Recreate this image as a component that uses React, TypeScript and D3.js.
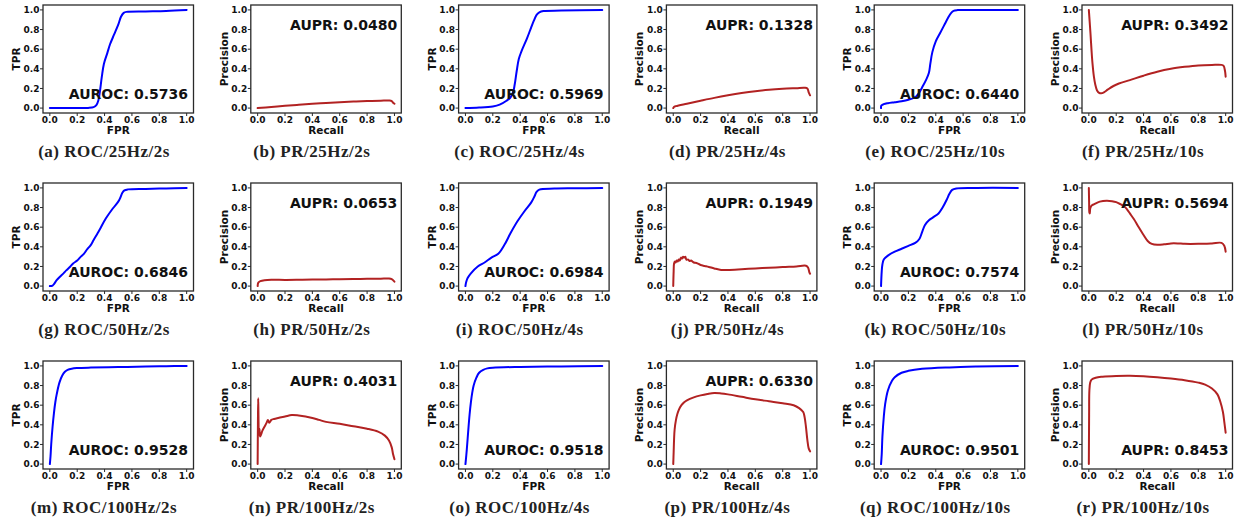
import React from 'react';
import * as d3 from 'd3';

type Pt = [number, number];

// ---------- data ----------
const roc25_2s: Pt[] = [[0,0],[0.1,0],[0.2,0],[0.28,0.002],[0.32,0.01],[0.34,0.03],[0.355,0.08],[0.365,0.16],[0.38,0.32],[0.395,0.45],[0.42,0.56],[0.44,0.65],[0.47,0.75],[0.5,0.85],[0.52,0.93],[0.54,0.97],[0.56,0.98],[0.7,0.985],[0.85,0.99],[1,1]];
const pr25_2s: Pt[] = [[0,0],[0.1,0.012],[0.2,0.024],[0.3,0.034],[0.4,0.044],[0.5,0.052],[0.6,0.06],[0.7,0.066],[0.8,0.071],[0.9,0.075],[0.96,0.077],[0.98,0.072],[0.99,0.055],[1,0.045]];
const roc25_4s: Pt[] = [[0,0],[0.1,0.005],[0.2,0.017],[0.25,0.035],[0.3,0.075],[0.33,0.11],[0.35,0.17],[0.36,0.24],[0.375,0.38],[0.39,0.5],[0.41,0.58],[0.45,0.71],[0.48,0.82],[0.5,0.89],[0.52,0.95],[0.54,0.975],[0.57,0.988],[0.7,0.993],[1,1]];
const pr25_4s: Pt[] = [[0,0],[0.005,0.012],[0.02,0.02],[0.1,0.045],[0.2,0.075],[0.3,0.104],[0.4,0.13],[0.5,0.153],[0.6,0.172],[0.7,0.186],[0.8,0.196],[0.9,0.203],[0.96,0.207],[0.98,0.2],[0.99,0.16],[1,0.13]];
const roc25_10s: Pt[] = [[0,0],[0.002,0.025],[0.02,0.04],[0.05,0.05],[0.1,0.06],[0.15,0.07],[0.2,0.085],[0.25,0.11],[0.28,0.16],[0.3,0.21],[0.33,0.29],[0.35,0.36],[0.36,0.45],[0.375,0.57],[0.4,0.68],[0.43,0.76],[0.46,0.84],[0.49,0.92],[0.51,0.965],[0.53,0.99],[0.56,0.998],[0.7,1],[1,1]];
const pr25_10s: Pt[] = [[0,1.0],[0.006,0.88],[0.012,0.76],[0.02,0.58],[0.027,0.45],[0.037,0.32],[0.047,0.24],[0.06,0.18],[0.075,0.155],[0.09,0.15],[0.11,0.16],[0.14,0.19],[0.18,0.225],[0.22,0.25],[0.3,0.285],[0.4,0.33],[0.5,0.37],[0.6,0.4],[0.7,0.42],[0.8,0.435],[0.9,0.44],[0.97,0.44],[0.985,0.43],[0.995,0.38],[1,0.32]];

const roc50_2s: Pt[] = [[0,0],[0.02,0.005],[0.03,0.02],[0.04,0.04],[0.05,0.06],[0.07,0.09],[0.1,0.13],[0.12,0.16],[0.15,0.2],[0.17,0.23],[0.2,0.26],[0.22,0.29],[0.25,0.33],[0.27,0.37],[0.3,0.42],[0.32,0.47],[0.35,0.54],[0.37,0.59],[0.41,0.69],[0.46,0.79],[0.5,0.86],[0.515,0.9],[0.53,0.95],[0.545,0.975],[0.57,0.985],[0.7,0.99],[0.85,0.995],[1,1]];
const pr50_2s: Pt[] = [[0,0],[0.005,0.035],[0.02,0.05],[0.05,0.06],[0.1,0.065],[0.2,0.063],[0.3,0.064],[0.4,0.066],[0.5,0.068],[0.6,0.07],[0.7,0.072],[0.8,0.074],[0.9,0.076],[0.96,0.077],[0.98,0.07],[1,0.045]];
const roc50_4s: Pt[] = [[0,0],[0.005,0.04],[0.017,0.085],[0.04,0.13],[0.09,0.2],[0.14,0.24],[0.19,0.29],[0.24,0.33],[0.285,0.42],[0.33,0.54],[0.38,0.66],[0.43,0.76],[0.48,0.85],[0.505,0.915],[0.52,0.96],[0.54,0.983],[0.65,0.993],[0.8,0.996],[1,1]];
const pr50_4s: Pt[] = [[0,0],[0.003,0.15],[0.006,0.23],[0.012,0.25],[0.018,0.24],[0.025,0.26],[0.032,0.25],[0.04,0.27],[0.048,0.26],[0.056,0.29],[0.064,0.28],[0.072,0.3],[0.08,0.29],[0.088,0.3],[0.096,0.27],[0.11,0.27],[0.12,0.255],[0.13,0.26],[0.15,0.24],[0.17,0.235],[0.2,0.215],[0.23,0.205],[0.26,0.195],[0.3,0.18],[0.35,0.165],[0.4,0.165],[0.5,0.172],[0.6,0.18],[0.7,0.186],[0.8,0.194],[0.9,0.2],[0.97,0.207],[0.985,0.19],[0.995,0.14],[1,0.126]];
const roc50_10s: Pt[] = [[0,0],[0.005,0.15],[0.01,0.22],[0.02,0.27],[0.05,0.31],[0.1,0.35],[0.15,0.38],[0.2,0.41],[0.25,0.44],[0.28,0.48],[0.3,0.55],[0.32,0.62],[0.35,0.67],[0.38,0.7],[0.42,0.74],[0.45,0.8],[0.48,0.88],[0.5,0.94],[0.52,0.98],[0.55,0.995],[0.7,1],[1,1]];
const pr50_10s: Pt[] = [[0,1.0],[0.002,0.85],[0.004,0.75],[0.007,0.74],[0.01,0.79],[0.02,0.82],[0.04,0.835],[0.08,0.86],[0.13,0.87],[0.17,0.865],[0.2,0.855],[0.23,0.835],[0.26,0.81],[0.28,0.78],[0.3,0.74],[0.33,0.68],[0.36,0.61],[0.4,0.52],[0.43,0.46],[0.46,0.43],[0.5,0.42],[0.55,0.425],[0.6,0.435],[0.65,0.435],[0.7,0.43],[0.8,0.43],[0.9,0.435],[0.97,0.44],[0.99,0.41],[1,0.35]];

const roc100_2s: Pt[] = [[0,0],[0.005,0.08],[0.01,0.2],[0.02,0.38],[0.03,0.52],[0.04,0.63],[0.05,0.71],[0.07,0.83],[0.09,0.9],[0.11,0.94],[0.13,0.96],[0.16,0.972],[0.2,0.978],[0.3,0.983],[0.5,0.988],[0.7,0.993],[0.85,0.997],[1,1]];
const pr100_2s: Pt[] = [[0,0],[0.002,0.4],[0.004,0.67],[0.006,0.5],[0.009,0.3],[0.013,0.36],[0.018,0.28],[0.025,0.3],[0.035,0.34],[0.05,0.38],[0.065,0.42],[0.075,0.45],[0.085,0.42],[0.1,0.45],[0.12,0.46],[0.15,0.47],[0.2,0.485],[0.25,0.5],[0.3,0.495],[0.35,0.485],[0.4,0.47],[0.45,0.45],[0.5,0.43],[0.6,0.41],[0.7,0.385],[0.8,0.36],[0.88,0.33],[0.93,0.29],[0.96,0.24],[0.98,0.17],[0.99,0.1],[1,0.05]];
const roc100_4s: Pt[] = [[0,0],[0.005,0.07],[0.01,0.15],[0.02,0.33],[0.03,0.5],[0.04,0.63],[0.05,0.73],[0.06,0.8],[0.08,0.88],[0.1,0.93],[0.13,0.96],[0.16,0.975],[0.2,0.982],[0.4,0.99],[0.7,0.995],[1,1]];
const pr100_4s: Pt[] = [[0,0],[0.003,0.12],[0.006,0.25],[0.01,0.35],[0.02,0.45],[0.03,0.51],[0.04,0.55],[0.06,0.6],[0.08,0.63],[0.1,0.65],[0.15,0.68],[0.2,0.7],[0.25,0.715],[0.3,0.725],[0.35,0.72],[0.4,0.71],[0.5,0.685],[0.6,0.66],[0.7,0.64],[0.8,0.62],[0.88,0.6],[0.92,0.57],[0.95,0.53],[0.96,0.48],[0.97,0.38],[0.98,0.25],[0.99,0.16],[1,0.13]];
const roc100_10s: Pt[] = [[0,0],[0.005,0.1],[0.01,0.28],[0.02,0.48],[0.03,0.61],[0.05,0.75],[0.08,0.85],[0.1,0.885],[0.15,0.93],[0.2,0.95],[0.3,0.97],[0.5,0.985],[0.7,0.993],[1,1]];
const pr100_10s: Pt[] = [[0,0],[0.002,0.5],[0.004,0.75],[0.01,0.83],[0.02,0.86],[0.05,0.88],[0.1,0.89],[0.2,0.898],[0.3,0.9],[0.4,0.895],[0.5,0.885],[0.6,0.872],[0.7,0.855],[0.8,0.83],[0.85,0.81],[0.9,0.77],[0.94,0.71],[0.96,0.64],[0.98,0.53],[0.99,0.43],[1,0.32]];

const curves: Pt[][] = [
  roc25_2s, pr25_2s, roc25_4s, pr25_4s, roc25_10s, pr25_10s,
  roc50_2s, pr50_2s, roc50_4s, pr50_4s, roc50_10s, pr50_10s,
  roc100_2s, pr100_2s, roc100_4s, pr100_4s, roc100_10s, pr100_10s,
];
const kinds = ['ROC', 'PR', 'ROC', 'PR', 'ROC', 'PR'];
const scores = [
  'AUROC: 0.5736', 'AUPR: 0.0480', 'AUROC: 0.5969', 'AUPR: 0.1328', 'AUROC: 0.6440', 'AUPR: 0.3492',
  'AUROC: 0.6846', 'AUPR: 0.0653', 'AUROC: 0.6984', 'AUPR: 0.1949', 'AUROC: 0.7574', 'AUPR: 0.5694',
  'AUROC: 0.9528', 'AUPR: 0.4031', 'AUROC: 0.9518', 'AUPR: 0.6330', 'AUROC: 0.9501', 'AUPR: 0.8453',
];
// where the score label sits in each panel: 'top' or 'bottom'
const scorePlace = [
  'bottom', 'top', 'bottom', 'top', 'bottom', 'top',
  'bottom', 'top', 'bottom', 'top', 'bottom', 'top',
  'bottom', 'top', 'bottom', 'top', 'bottom', 'bottom',
];
const captions = [
  '(a) ROC/25Hz/2s', '(b) PR/25Hz/2s', '(c) ROC/25Hz/4s', '(d) PR/25Hz/4s', '(e) ROC/25Hz/10s', '(f) PR/25Hz/10s',
  '(g) ROC/50Hz/2s', '(h) PR/50Hz/2s', '(i) ROC/50Hz/4s', '(j) PR/50Hz/4s', '(k) ROC/50Hz/10s', '(l) PR/50Hz/10s',
  '(m) ROC/100Hz/2s', '(n) PR/100Hz/2s', '(o) ROC/100Hz/4s', '(p) PR/100Hz/4s', '(q) ROC/100Hz/10s', '(r) PR/100Hz/10s',
];
const ticks = [0, 0.2, 0.4, 0.6, 0.8, 1.0];

// ---------- layout ----------
const W = 1245, H = 525;
const colLeft0 = 43, colStep = 207.8;
const rowTops = [5, 183, 361];
const boxW = 150.5, boxH = 108;
const sans = "'DejaVu Sans', sans-serif";
const serif = "'Liberation Serif', 'Times New Roman', serif";

function Panel({ idx }: { idx: number }) {
  const col = idx % 6, row = Math.floor(idx / 6);
  const left = colLeft0 + col * colStep;
  const top = rowTops[row];
  const isRoc = kinds[col] === 'ROC';
  const xs = d3.scaleLinear().domain([-0.05, 1.05]).range([left, left + boxW]);
  const ys = d3.scaleLinear().domain([-0.05, 1.05]).range([top + boxH, top]);
  const line = d3.line<Pt>().x(d => xs(d[0])).y(d => ys(d[1])).curve(d3.curveCatmullRom.alpha(0.5));
  const bottom = top + boxH, right = left + boxW;
  const color = isRoc ? '#0000ff' : '#b22222';
  const atBottom = scorePlace[idx] === 'bottom';
  return (
    <g>
      <path d={line(curves[idx]) || ''} fill="none" stroke={color} strokeWidth={2} strokeLinejoin="round" strokeLinecap="round" />
      <rect x={left} y={top} width={boxW} height={boxH} fill="none" stroke="#2a2a2a" strokeWidth={1.3} />
      {ticks.map(t => (
        <g key={'x' + t}>
          <line x1={xs(t)} x2={xs(t)} y1={bottom} y2={bottom + 3} stroke="#2a2a2a" strokeWidth={1} />
          <text x={xs(t)} y={bottom + 9.5} textAnchor="middle" fontFamily={sans} fontWeight="bold" fontSize={9} fill="#111">{t.toFixed(1)}</text>
        </g>
      ))}
      {ticks.map(t => (
        <g key={'y' + t}>
          <line x1={left - 3} x2={left} y1={ys(t)} y2={ys(t)} stroke="#2a2a2a" strokeWidth={1} />
          <text x={left - 3.5} y={ys(t) + 3.3} textAnchor="end" fontFamily={sans} fontWeight="bold" fontSize={9} fill="#111">{t.toFixed(1)}</text>
        </g>
      ))}
      <text x={(left + right) / 2} y={bottom + 20.5} textAnchor="middle" fontFamily={sans} fontWeight="bold" fontSize={10.5} fill="#111">{isRoc ? 'FPR' : 'Recall'}</text>
      <text transform={`translate(${left - 23},${(top + bottom) / 2}) rotate(-90)`} textAnchor="middle" fontFamily={sans} fontWeight="bold" fontSize={10.5} fill="#111">{isRoc ? 'TPR' : 'Precision'}</text>
      {atBottom ? (
        <text x={right - (isRoc ? 5.5 : 4)} y={bottom - 14.5} textAnchor="end" fontFamily={sans} fontWeight="bold" fontSize={14} fill="#111">{scores[idx]}</text>
      ) : (
        <text x={right - 4} y={top + 24.5} textAnchor="end" fontFamily={sans} fontWeight="bold" fontSize={14} fill="#111">{scores[idx]}</text>
      )}
      <text x={104 + col * colStep} y={bottom + 44} textAnchor="middle" fontFamily={serif} fontWeight="bold" fontSize={17} letterSpacing={0.5} fill="#222">{captions[idx]}</text>
    </g>
  );
}

export default function App() {
  return (
    <svg width={W} height={H} viewBox={`0 0 ${W} ${H}`} style={{ position: 'absolute', left: 0, top: 0, background: '#fff' }}>
      <rect x={0} y={0} width={W} height={H} fill="#fff" />
      {curves.map((_, i) => <Panel key={i} idx={i} />)}
    </svg>
  );
}
